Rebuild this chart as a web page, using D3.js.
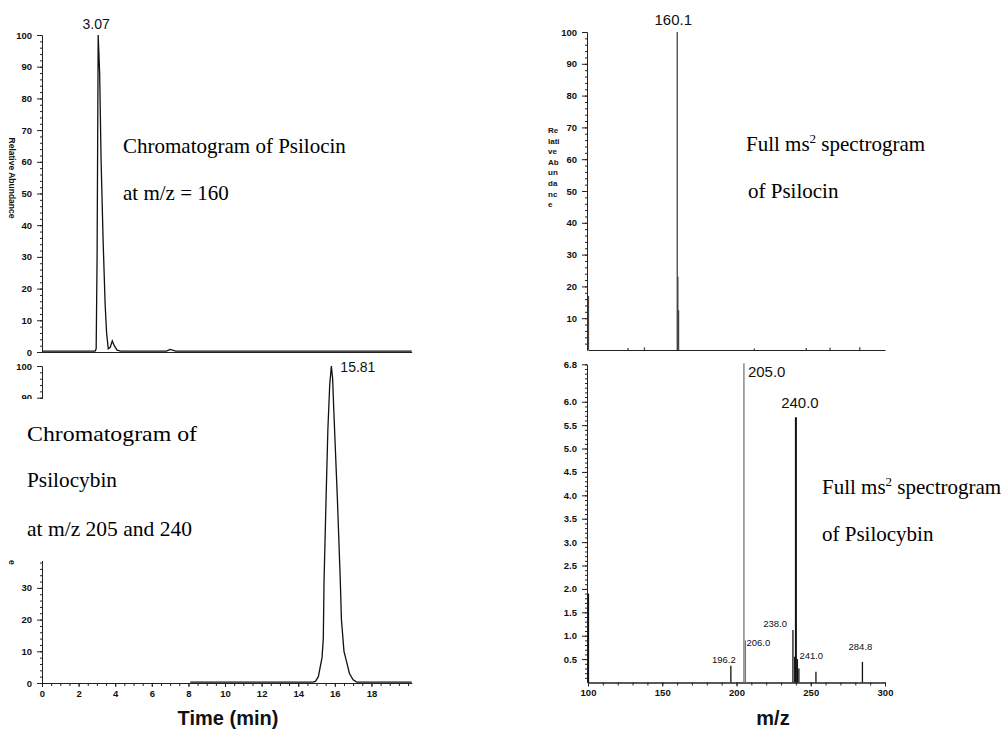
<!DOCTYPE html>
<html>
<head>
<meta charset="utf-8">
<script src="https://cdn.jsdelivr.net/npm/d3@7"></script>
<style>
  body { margin: 0; background: #fff; }
  .tick text, .lbl { font-family: Arial, "Liberation Sans", sans-serif; font-weight: bold; fill: #111; }
  .tick text { font-size: 9.5px; }
  .peak { font-family: Arial, "Liberation Sans", sans-serif; fill: #111; }
  .note { font-family: "Times New Roman", "Liberation Serif", serif; font-size: 21px; fill: #000; }
  .domain, .tick line { stroke: #222; }
</style>
</head>
<body>
<svg id="chart" width="1005" height="729"></svg>
<script>
// chromatogram traces: [time (min), relative abundance %]
var psilocinTrace = [
  [0, 0.3], [1.5, 0.3], [2.9, 0.3], [2.96, 1], [3.01, 30], [3.07, 100], [3.15, 88],
  [3.23, 60], [3.34, 35], [3.45, 15], [3.53, 6], [3.62, 1], [3.73, 1.5], [3.84, 3.5],
  [3.95, 2], [4.1, 0.6], [4.3, 0.3], [6.8, 0.3], [7.0, 0.8], [7.3, 0.3], [20.2, 0.3]
];
var psilocybinTrace = [
  [8.1, 0.3], [14.8, 0.3], [14.94, 0.5], [15.1, 2], [15.3, 8], [15.37, 14], [15.41, 32],
  [15.52, 58], [15.62, 80], [15.72, 94], [15.81, 100], [15.88, 96], [15.95, 85], [16.14, 58],
  [16.3, 32], [16.36, 20], [16.5, 10], [16.63, 7], [16.8, 3], [17.0, 1], [17.2, 0.3], [20.2, 0.3]
];

// ms2 spectra: [m/z, intensity]
var psilocinSpectrum = [
  [100.3, 17], [127, 0.6], [138, 0.8], [160.1, 100], [160.5, 23], [161.0, 12.5],
  [212, 0.5], [247, 0.6], [263, 0.7], [283, 0.9]
];
var psilocybinSpectrum = [
  [100.3, 1.9], [196.2, 0.36], [205.0, 6.82], [206.0, 0.9], [238.0, 1.12], [239.2, 0.55],
  [240.0, 5.67], [241.0, 0.5], [242.0, 0.3], [253.5, 0.23], [284.8, 0.44]
];
var psilocybinMinorLabels = ["196.2", "206.0", "238.0", "241.0", "284.8"];

// tick values
var abundanceTicks = [0, 10, 20, 30, 40, 50, 60, 70, 80, 90, 100];
var lowerAbundanceTicks = [0, 10, 20, 30, 90, 100]; // 40-80 lie under the text patch
var spectrumTicks = [10, 20, 30, 40, 50, 60, 70, 80, 90, 100];
var timeTicks = [0, 2, 4, 6, 8, 10, 12, 14, 16, 18];
var mzTicks = [100, 150, 200, 250, 300];
var intensityTicks = [0.5, 1.0, 1.5, 2.0, 2.5, 3.0, 3.5, 4.0, 4.5, 5.0, 5.5, 6.0, 6.8];

var svg = d3.select("#chart");

// scales
var xTime = d3.scaleLinear().domain([0, 20.2]).range([42, 411.7]);
var yTopLeft = d3.scaleLinear().domain([0, 100]).range([352, 35]);
var yBottomLeft = d3.scaleLinear().domain([0, 100]).range([683, 366]);
var xMz = d3.scaleLinear().domain([100, 300]).range([588, 885]);
var yTopRight = d3.scaleLinear().domain([0, 100]).range([350, 32]);
var yBottomRight = d3.scaleLinear().domain([0, 6.8]).range([682.5, 364.3]);

function yAxis(scale, x, values, minorValues, fmt) {
  svg.append("g")
    .attr("transform", `translate(${x},0)`)
    .call(d3.axisLeft(scale).tickValues(minorValues).tickSize(2).tickSizeOuter(0).tickFormat(""));
  svg.append("g")
    .attr("transform", `translate(${x},0)`)
    .call(d3.axisLeft(scale).tickValues(values).tickSize(5).tickPadding(5).tickSizeOuter(0).tickFormat(fmt));
}

function xAxis(scale, y, values, minorValues, fmt) {
  svg.append("g")
    .attr("transform", `translate(0,${y})`)
    .call(d3.axisBottom(scale).tickValues(minorValues).tickSize(3).tickSizeOuter(0).tickFormat(""));
  svg.append("g")
    .attr("transform", `translate(0,${y})`)
    .call(d3.axisBottom(scale).tickValues(values).tickSize(4).tickPadding(3).tickSizeOuter(0).tickFormat(fmt));
}

// ---- left: chromatograms ----
yAxis(yTopLeft, 42, abundanceTicks, d3.range(0, 101, 2), d3.format("d"));
svg.append("g")
  .attr("transform", `translate(0,${yTopLeft(0)})`)
  .call(d3.axisBottom(xTime).tickValues([]).tickSizeOuter(0));

svg.append("text")
  .attr("class", "lbl")
  .attr("font-size", 8.5)
  .attr("text-anchor", "middle")
  .attr("transform", `translate(9,${178}) rotate(90)`)
  .text("Relative Abundance");

yAxis(yBottomLeft, 42, lowerAbundanceTicks, d3.range(0, 101, 2), d3.format("d"));
xAxis(xTime, yBottomLeft(0), timeTicks, d3.range(0, 20.1, 0.5), d3.format("d"));

var timeLine = function(yScale) {
  return d3.line().x(d => xTime(d[0])).y(d => yScale(d[1]));
};

svg.append("path")
  .datum(psilocinTrace)
  .attr("fill", "none")
  .attr("stroke", "#111")
  .attr("stroke-width", 1.3)
  .attr("d", timeLine(yTopLeft));

svg.append("path")
  .datum(psilocybinTrace)
  .attr("fill", "none")
  .attr("stroke", "#111")
  .attr("stroke-width", 1.3)
  .attr("d", timeLine(yBottomLeft));

// white patch behind the text block (hides the middle of the lower axis, as in the original)
svg.append("rect")
  .attr("x", 0).attr("y", 399)
  .attr("width", 250).attr("height", 162)
  .attr("fill", "#fff");

// only the tail of the lower axis title survives below the patch
svg.append("text")
  .attr("class", "lbl")
  .attr("font-size", 8.5)
  .attr("transform", `translate(9,${560}) rotate(90)`)
  .text("e");

svg.append("text")
  .attr("class", "peak")
  .attr("font-size", 14)
  .attr("text-anchor", "middle")
  .attr("x", xTime(3.07) - 2)
  .attr("y", yTopLeft(100) - 6)
  .text("3.07");

svg.append("text")
  .attr("class", "peak")
  .attr("font-size", 14)
  .attr("x", xTime(15.81) + 9)
  .attr("y", yBottomLeft(100) + 6)
  .text("15.81");

svg.append("text")
  .attr("class", "lbl")
  .attr("font-size", 20)
  .attr("text-anchor", "middle")
  .attr("x", 228)
  .attr("y", 725)
  .text("Time (min)");

// ---- right: spectra ----
yAxis(yTopRight, 587, spectrumTicks, d3.range(2, 101, 2), d3.format("d"));
svg.append("g")
  .attr("transform", `translate(0,${yTopRight(0)})`)
  .call(d3.axisBottom(xMz).tickValues([]).tickSizeOuter(0));

var stackedLabel = ["Re", "lati", "ve", "Ab", "un", "da", "nc", "e"];
svg.append("g").selectAll("text")
  .data(stackedLabel)
  .enter()
  .append("text")
  .attr("class", "lbl")
  .attr("font-size", 8)
  .attr("x", 548)
  .attr("y", (d, i) => 133 + i * 10.6)
  .text(d => d);

yAxis(yBottomRight, 587, intensityTicks, d3.range(0.1, 6.81, 0.1), d3.format(".1f"));
xAxis(xMz, yBottomRight(0), mzTicks, d3.range(100, 301, 10), d3.format("d"));

svg.append("g").selectAll("line")
  .data(psilocinSpectrum)
  .enter()
  .append("line")
  .attr("x1", d => xMz(d[0]))
  .attr("x2", d => xMz(d[0]))
  .attr("y1", yTopRight(0))
  .attr("y2", d => yTopRight(d[1]))
  .attr("stroke", "#444")
  .attr("stroke-width", 1.3);

svg.append("g").selectAll("line")
  .data(psilocybinSpectrum)
  .enter()
  .append("line")
  .attr("x1", d => xMz(d[0]))
  .attr("x2", d => xMz(d[0]))
  .attr("y1", yBottomRight(0))
  .attr("y2", d => yBottomRight(d[1]))
  .attr("stroke", d => d[0] === 205.0 || d[0] === 206.0 ? "#777" : "#111")
  .attr("stroke-width", d => d[0] === 240.0 ? 2 : 1.3);

svg.append("text")
  .attr("class", "peak")
  .attr("font-size", 15)
  .attr("text-anchor", "middle")
  .attr("x", xMz(160.1) - 4)
  .attr("y", yTopRight(100) - 7)
  .text("160.1");

svg.append("text")
  .attr("class", "peak")
  .attr("font-size", 15)
  .attr("x", xMz(205.0) + 4)
  .attr("y", yBottomRight(6.82) + 14)
  .text("205.0");

svg.append("text")
  .attr("class", "peak")
  .attr("font-size", 15)
  .attr("text-anchor", "middle")
  .attr("x", xMz(240.0) + 4)
  .attr("y", yBottomRight(5.67) - 9)
  .text("240.0");

// small peak labels: offsets from the top of each stick
var minorLabelOffsets = {
  "196.2": { dx: -7, dy: -3, anchor: "middle" },
  "206.0": { dx: 1, dy: 6, anchor: "start" },
  "238.0": { dx: -6, dy: -3, anchor: "end" },
  "241.0": { dx: 2, dy: 0, anchor: "start" },
  "284.8": { dx: -2, dy: -12, anchor: "middle" }
};
svg.append("g").selectAll("text")
  .data(psilocybinSpectrum.filter(d => psilocybinMinorLabels.indexOf(d[0].toFixed(1)) >= 0))
  .enter()
  .append("text")
  .attr("class", "peak")
  .attr("font-size", 9.5)
  .attr("text-anchor", d => minorLabelOffsets[d[0].toFixed(1)].anchor)
  .attr("x", d => xMz(d[0]) + minorLabelOffsets[d[0].toFixed(1)].dx)
  .attr("y", d => yBottomRight(d[1]) + minorLabelOffsets[d[0].toFixed(1)].dy)
  .text(d => d[0].toFixed(1));

svg.append("text")
  .attr("class", "lbl")
  .attr("font-size", 20)
  .attr("text-anchor", "middle")
  .attr("x", 773)
  .attr("y", 725)
  .text("m/z");

// ---- annotations ----
function note(x, y, txt, len) {
  var t = svg.append("text").attr("class", "note").attr("x", x).attr("y", y).text(txt);
  if (len) t.attr("textLength", len).attr("lengthAdjust", "spacingAndGlyphs");
  return t;
}
function msNote(x, y) {
  var t = svg.append("text").attr("class", "note").attr("x", x).attr("y", y);
  t.append("tspan").text("Full ms");
  t.append("tspan").attr("font-size", 13).attr("dy", -8).text("2");
  t.append("tspan").attr("dy", 8).text(" spectrogram");
}

note(123, 153, "Chromatogram of Psilocin");
note(123, 200, "at m/z = 160");
note(27, 441, "Chromatogram of", 170);
note(27, 487, "Psilocybin", 90);
note(27, 536, "at m/z 205 and 240", 165);
msNote(746, 151);
note(748, 198, "of Psilocin");
msNote(822, 494);
note(822, 541, "of Psilocybin");
</script>
</body>
</html>
